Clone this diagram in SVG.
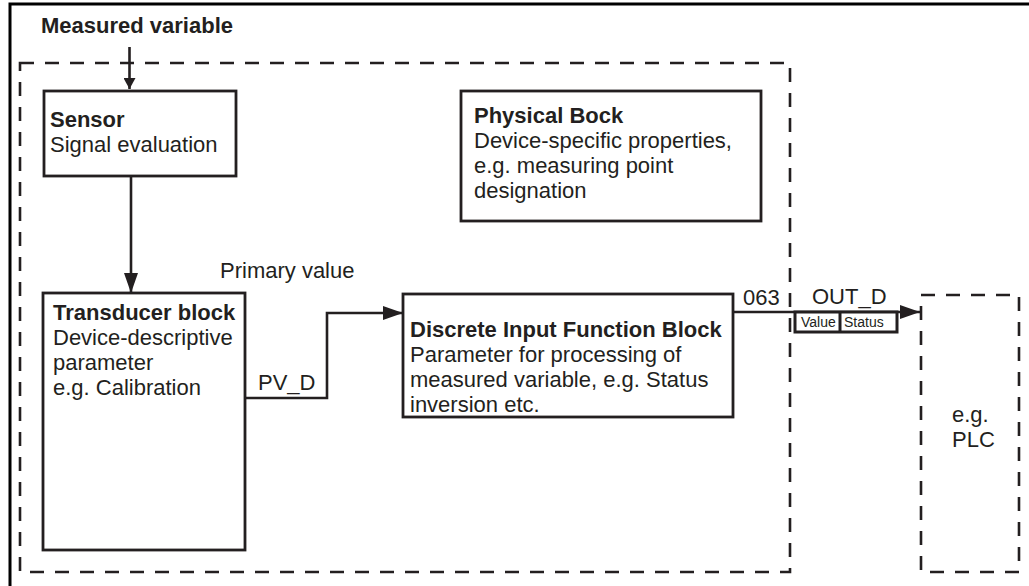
<svg xmlns="http://www.w3.org/2000/svg" width="1029" height="586" viewBox="0 0 1029 586">
<style>
text{font-family:"Liberation Sans",Arial,sans-serif;font-size:22px;fill:#231f20}
.b{font-weight:bold}
.sm{font-size:14px}
.box{fill:#fff;stroke:#231f20;stroke-width:2.8}
.dash{fill:none;stroke:#231f20;stroke-width:2.6;stroke-dasharray:14 11}
.con{fill:none;stroke:#231f20;stroke-width:2.6}
</style>
<defs>
<marker id="ah" viewBox="0 0 20 14" refX="20" refY="7" markerWidth="20" markerHeight="14" markerUnits="userSpaceOnUse" orient="auto"><path d="M0,0 L20,7 L0,14 z" fill="#231f20"/></marker>
<marker id="ahs" viewBox="0 0 11 12" refX="11" refY="6" markerWidth="11" markerHeight="12" markerUnits="userSpaceOnUse" orient="auto"><path d="M0,0 L11,6 L0,12 z" fill="#231f20"/></marker>
</defs>
<rect width="1029" height="586" fill="#fff"/>
<g id="frame">
<path d="M10,586 V4 H1029" fill="none" stroke="#000" stroke-width="3"/>
</g>
<g id="device">
<rect class="dash" x="20" y="63" width="770" height="509"/>
</g>
<g id="plc">
<rect class="dash" x="921" y="295" width="98" height="277"/>
<text x="952" y="422">e.g.</text>
<text x="952" y="447">PLC</text>
</g>
<text class="b" x="41" y="33">Measured variable</text>
<g id="sensor">
<rect class="box" x="44" y="91" width="192" height="85"/>
<text class="b" x="50" y="127">Sensor</text>
<text x="50" y="152">Signal evaluation</text>
</g>
<g id="physical">
<rect class="box" x="461" y="91" width="300" height="130"/>
<text class="b" x="474" y="123">Physical Bock</text>
<text x="474" y="148">Device-specific properties,</text>
<text x="474" y="173">e.g. measuring point</text>
<text x="474" y="198">designation</text>
</g>
<g id="transducer">
<rect class="box" x="43" y="293" width="202" height="257"/>
<text class="b" x="53" y="320">Transducer block</text>
<text x="53" y="345">Device-descriptive</text>
<text x="53" y="370">parameter</text>
<text x="53" y="395">e.g. Calibration</text>
</g>
<g id="difb">
<rect class="box" x="403" y="294" width="330" height="123"/>
<text class="b" x="410" y="337">Discrete Input Function Block</text>
<text x="410" y="362">Parameter for processing of</text>
<text x="410" y="387">measured variable, e.g. Status</text>
<text x="410" y="412">inversion etc.</text>
</g>
<g id="connectors">
<path class="con" d="M129.5,47 V89" marker-end="url(#ahs)"/>
<path class="con" d="M131,176 V293" marker-end="url(#ah)"/>
<path class="con" d="M245,398 H327 V313 H403" marker-end="url(#ah)"/>
<path class="con" d="M733,312 H920" marker-end="url(#ah)"/>
<text x="220" y="278">Primary value</text>
<text x="258" y="390">PV_D</text>
<text x="743" y="305">063</text>
<text x="812" y="304">OUT_D</text>
</g>
<g id="outd-record">
<rect x="795" y="312" width="102" height="20" fill="#fff" stroke="#231f20" stroke-width="3"/>
<line x1="840" y1="312" x2="840" y2="332" stroke="#231f20" stroke-width="3"/>
<text class="sm" x="801" y="327">Value</text>
<text class="sm" x="844" y="327">Status</text>
</g>
</svg>
